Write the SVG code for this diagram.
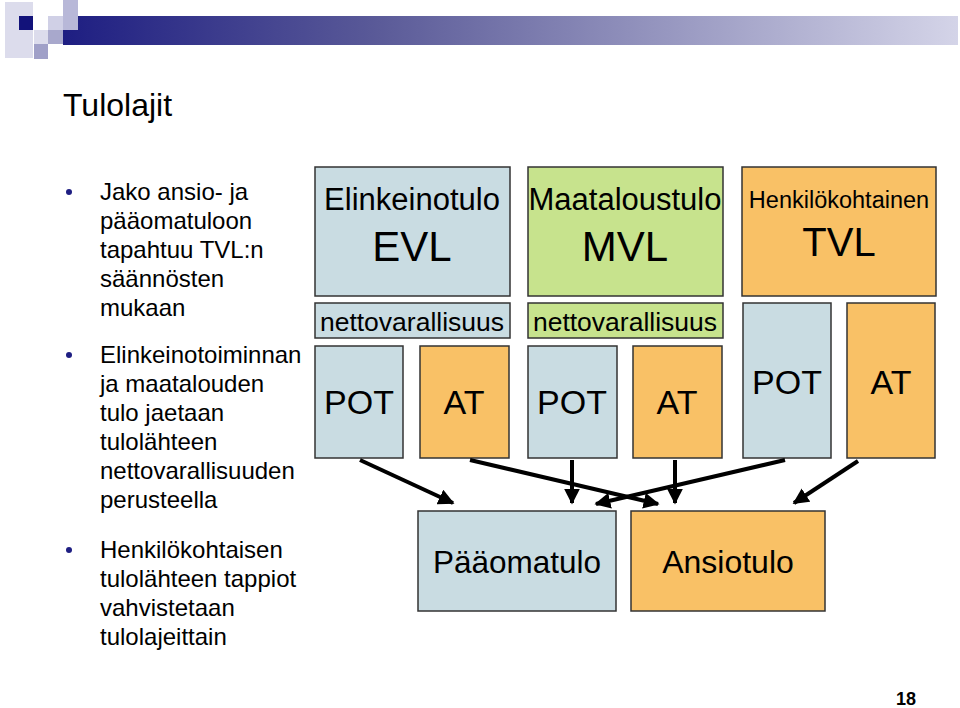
<svg xmlns="http://www.w3.org/2000/svg" width="960" height="708" viewBox="0 0 960 708">
<defs>
<linearGradient id="bar" x1="0" y1="0" x2="1" y2="0">
<stop offset="0" stop-color="#1e1e82"/>
<stop offset="0.35" stop-color="#5a5a98"/>
<stop offset="1" stop-color="#d4d4e8"/>
</linearGradient>
<marker id="ah" viewBox="0 0 10 10" refX="9" refY="5" markerWidth="4" markerHeight="4" orient="auto" markerUnits="strokeWidth">
<path d="M0,0 L10,5 L0,10 z" fill="#000"/>
</marker>
<style>
text{font-family:"Liberation Sans",Arial,sans-serif;fill:#000}
.box{stroke:#333;stroke-width:1.5}
.blue{fill:#c9dce2}
.orange{fill:#f9c166}
.green{fill:#c7e38d}
.bul{font-size:24px}
.conn line{stroke:#000;stroke-width:4;marker-end:url(#ah)}
</style>
</defs>
<rect width="960" height="708" fill="#fff"/>
<g id="header">
<rect x="5" y="2" width="28" height="56" fill="#dcdcec"/>
<rect x="63" y="16" width="895" height="29" fill="url(#bar)"/>
<rect x="63" y="0" width="15" height="30" fill="#b8b8d8"/>
<rect x="48" y="16" width="15" height="14" fill="#d0d0e6"/>
<rect x="19" y="16" width="14" height="14" fill="#12127a"/>
<rect x="34" y="30" width="14" height="14" fill="#dcdcec"/>
<rect x="48" y="30" width="15" height="14" fill="#a8a8cc"/>
<rect x="34" y="44" width="14" height="15" fill="#a0a0c8"/>
</g>
<text x="63" y="116" font-size="32">Tulolajit</text>
<g id="bullets">
<circle cx="69" cy="192" r="3" fill="#1e1e82"/>
<text class="bul" x="100" y="200">Jako ansio- ja</text>
<text class="bul" x="100" y="229">pääomatuloon</text>
<text class="bul" x="100" y="258">tapahtuu TVL:n</text>
<text class="bul" x="100" y="287">säännösten</text>
<text class="bul" x="100" y="316">mukaan</text>
<circle cx="69" cy="355" r="3" fill="#1e1e82"/>
<text class="bul" x="100" y="363">Elinkeinotoiminnan</text>
<text class="bul" x="100" y="392">ja maatalouden</text>
<text class="bul" x="100" y="421">tulo jaetaan</text>
<text class="bul" x="100" y="450">tulolähteen</text>
<text class="bul" x="100" y="479">nettovarallisuuden</text>
<text class="bul" x="100" y="508">perusteella</text>
<circle cx="69" cy="550" r="3" fill="#1e1e82"/>
<text class="bul" x="100" y="558">Henkilökohtaisen</text>
<text class="bul" x="100" y="587">tulolähteen tappiot</text>
<text class="bul" x="100" y="616">vahvistetaan</text>
<text class="bul" x="100" y="645">tulolajeittain</text>
</g>
<g id="evl">
<rect class="box blue" x="315" y="167" width="195" height="129"/>
<text x="412" y="210" font-size="31" text-anchor="middle">Elinkeinotulo</text>
<text x="412" y="261" font-size="42" text-anchor="middle">EVL</text>
</g>
<g id="evl-netto">
<rect class="box blue" x="315" y="303" width="195" height="35"/>
<text x="412" y="331" font-size="26.5" text-anchor="middle">nettovarallisuus</text>
</g>
<g id="evl-pot">
<rect class="box blue" x="315" y="346" width="88" height="112"/>
<text x="359" y="414" font-size="34" text-anchor="middle">POT</text>
</g>
<g id="evl-at">
<rect class="box orange" x="420" y="346" width="89" height="112"/>
<text x="464" y="414" font-size="34" text-anchor="middle">AT</text>
</g>
<g id="mvl">
<rect class="box green" x="528" y="167" width="195" height="129"/>
<text x="625" y="210" font-size="31" text-anchor="middle">Maataloustulo</text>
<text x="625" y="261" font-size="42" text-anchor="middle">MVL</text>
</g>
<g id="mvl-netto">
<rect class="box green" x="528" y="303" width="195" height="35"/>
<text x="625" y="331" font-size="26.5" text-anchor="middle">nettovarallisuus</text>
</g>
<g id="mvl-pot">
<rect class="box blue" x="528" y="346" width="89" height="112"/>
<text x="572" y="414" font-size="34" text-anchor="middle">POT</text>
</g>
<g id="mvl-at">
<rect class="box orange" x="633" y="346" width="89" height="112"/>
<text x="677" y="414" font-size="34" text-anchor="middle">AT</text>
</g>
<g id="tvl">
<rect class="box orange" x="742" y="167" width="194" height="129"/>
<text x="839" y="208" font-size="23.5" text-anchor="middle">Henkilökohtainen</text>
<text x="839" y="256" font-size="40" text-anchor="middle">TVL</text>
</g>
<g id="tvl-pot">
<rect class="box blue" x="743" y="303" width="88" height="155"/>
<text x="787" y="394" font-size="34" text-anchor="middle">POT</text>
</g>
<g id="tvl-at">
<rect class="box orange" x="847" y="303" width="88" height="155"/>
<text x="891" y="394" font-size="34" text-anchor="middle">AT</text>
</g>
<g id="paaomatulo">
<rect class="box blue" x="418" y="511" width="198" height="100"/>
<text x="517" y="573" font-size="31.5" text-anchor="middle">Pääomatulo</text>
</g>
<g id="ansiotulo">
<rect class="box orange" x="631" y="511" width="194" height="100"/>
<text x="728" y="573" font-size="32" text-anchor="middle">Ansiotulo</text>
</g>
<g class="conn" id="connectors">
<line x1="360" y1="460" x2="453" y2="503"/>
<line x1="470" y1="460" x2="658" y2="504"/>
<line x1="572" y1="460" x2="572" y2="503"/>
<line x1="675" y1="460" x2="675" y2="503"/>
<line x1="785" y1="460" x2="596" y2="504"/>
<line x1="858" y1="461" x2="794" y2="503"/>
</g>
<text x="906" y="705" font-size="18" font-weight="bold" text-anchor="middle">18</text>
</svg>
